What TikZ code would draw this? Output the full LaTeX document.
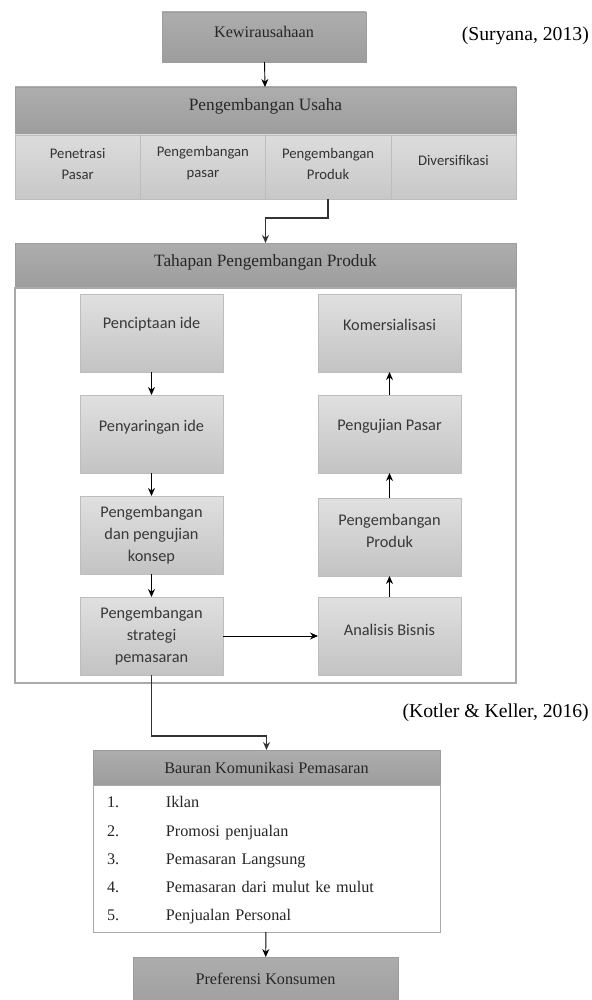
\documentclass[tikz,border=0pt]{standalone}
\usepackage{fontspec}
\setmainfont{Liberation Serif}
\newfontfamily\calibri{Carlito}
\usepackage{xcolor}
\usepackage{tikz}
\usetikzlibrary{arrows.meta, positioning}
\definecolor{headtop}{HTML}{ADADAD}
\definecolor{headbottom}{HTML}{9D9D9D}
\definecolor{stagetop}{HTML}{E0E0E0}
\definecolor{stagebottom}{HTML}{C3C3C3}
\definecolor{celltop}{HTML}{DCDCDC}
\definecolor{cellbottom}{HTML}{C8C8C8}
\definecolor{boxline}{HTML}{BDBDBD}
\definecolor{frameline}{HTML}{A9A9A9}
\newcommand{\headfont}{\fontsize{17.3}{20.5}\selectfont}
\newcommand{\smallhead}{\fontsize{16.2}{19.5}\selectfont}
\newcommand{\stagefont}{\calibri\fontsize{16.3}{22}\selectfont}
\newcommand{\cellfont}{\calibri\fontsize{14.7}{21.7}\selectfont}
\newcommand{\citefont}{\fontsize{19.7}{23}\selectfont}
\tikzstyle{header} = [rectangle, draw=headbottom, top color=headtop, bottom color=headbottom, text=black!85, font=\headfont, outer sep=0pt, text centered]
\tikzstyle{cell} = [rectangle, draw=boxline, top color=celltop, bottom color=cellbottom, minimum width=125.25pt, minimum height=64pt, align=center, text=black!80, font=\cellfont, outer sep=0pt]
\tikzstyle{stage} = [rectangle, draw=boxline, top color=stagetop, bottom color=stagebottom, minimum width=143pt, minimum height=78pt, align=center, text=black!78, font=\stagefont, outer sep=0pt]
\tikzstyle{frame} = [rectangle, draw=frameline, line width=1.1pt, fill=white, outer sep=0pt]
\tikzstyle{lift} = [text depth=#1]
\tikzstyle{arrow} = [line width=0.9pt, ->, >={Stealth[length=8pt, width=7pt]}]
\tikzstyle{thickarrow} = [line width=1.8pt, draw=black!80, ->, >={Stealth[length=8pt, width=7pt]}]

\begin{document}
\begin{tikzpicture}[x=1pt, y=-1pt, node distance=23pt]
        \useasboundingbox (0,0) rectangle (591,1000);
        \node (kewira) [header, font=\smallhead, minimum width=204pt, minimum height=50pt, lift=10pt] at (264,37) {Kewirausahaan};
        \node (suryana) [anchor=east, inner sep=0pt, font=\citefont] at (589,36) {(Suryana, 2013)};
        \node (usaha) [header, below=25pt of kewira, xshift=1.5pt, minimum width=501pt, minimum height=48pt, lift=12pt] {Pengembangan Usaha};
        \node (cell1) [cell, below right=0pt and 0pt of usaha.south west, lift=6pt] {Penetrasi\\Pasar};
        \node (cell2) [cell, right=0pt of cell1, lift=10pt] {Pengembangan\\pasar};
        \node (cell3) [cell, right=0pt of cell2, lift=6pt] {Pengembangan\\Produk};
        \node (cell4) [cell, right=0pt of cell3, lift=14pt] {Diversifikasi};

        \node (tahapan) [header, below=108pt of usaha, minimum width=501pt, minimum height=45pt, lift=11pt] {Tahapan Pengembangan Produk};
        \node (tahapanbody) [frame, below=0pt of tahapan, minimum width=501pt, minimum height=395pt] {};
        \node (pencip) [stage, below right=6pt and 65pt of tahapanbody.north west, lift=20pt] {Penciptaan ide};
        \node (penyar) [stage, below=of pencip, lift=17pt] {Penyaringan ide};
        \node (konsep) [stage, below=of penyar] {Pengembangan\\dan pengujian\\konsep};
        \node (strat) [stage, below=of konsep] {Pengembangan\\strategi\\pemasaran};
        \node (komers) [stage, right=95pt of pencip, lift=17pt] {Komersialisasi};
        \node (uji) [stage, right=95pt of penyar, lift=18pt] {Pengujian Pasar};
        \node (produk) [stage, right=95pt of konsep, yshift=-2pt, lift=12pt] {Pengembangan\\Produk};
        \node (analisis) [stage, right=95pt of strat, lift=12pt] {Analisis Bisnis};

        \node (kotler) [anchor=east, inner sep=0pt, font=\citefont] at (589,713) {(Kotler \& Keller, 2016)};
        \node (bauran) [header, font=\smallhead, below=67pt of tahapanbody, xshift=1pt, minimum width=347pt, minimum height=35pt] {Bauran Komunikasi Pemasaran};
        \node (bauranbody) [frame, line width=0.9pt, below=0pt of bauran, text width=319pt, inner xsep=14pt, minimum height=143pt, align=left, font=\smallhead, text=black!85] {\noindent\renewcommand{\arraystretch}{1.44}\begin{tabular}{@{}p{59pt}@{}l@{}}
            1. & Iklan\\
            2. & Promosi penjualan\\
            3. & Pemasaran Langsung\\
            4. & Pemasaran dari mulut ke mulut\\
            5. & Penjualan Personal
        \end{tabular}};
        \node (pref) [header, font=\smallhead, below=25pt of bauranbody, xshift=-1pt, minimum width=265pt, minimum height=56pt, lift=12pt] {Preferensi Konsumen};

        \draw[arrow] (kewira) -- (usaha);
        \draw[thickarrow] (cell3.south) -- ++(0,-19pt) -| (tahapan.north);
        \draw[arrow] (pencip) -- (penyar);
        \draw[arrow] (penyar) -- (konsep);
        \draw[arrow] (konsep) -- (strat);
        \draw[arrow] (strat) -- (analisis);
        \draw[arrow] (analisis) -- (produk);
        \draw[arrow] (produk) -- (uji);
        \draw[arrow] (uji) -- (komers);
        \draw[thickarrow] (strat.south) -- ++(0,-61pt) -| (bauran.north);
        \draw[arrow] (bauranbody) -- (pref);
    \end{tikzpicture}
\end{document}
